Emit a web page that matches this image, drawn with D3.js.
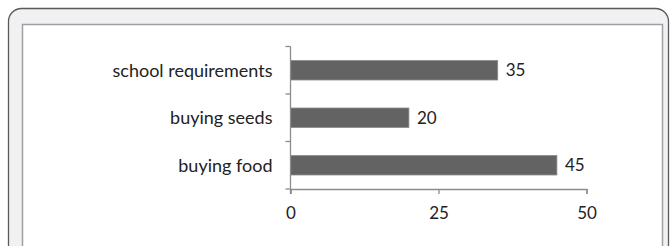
<!DOCTYPE html>
<html>
<head>
<meta charset="utf-8">
<script src="https://cdnjs.cloudflare.com/ajax/libs/d3/7.8.5/d3.min.js"></script>
<style>
  body { margin: 0; background: #fff; }
  svg text { font-family: Lato, "Open Sans", sans-serif; fill: #222; }
</style>
</head>
<body>
<div id="chart"></div>
<script>
// chart data
var categories = ['school requirements', 'buying seeds', 'buying food']
var values = [35, 20, 45]
var xTicks = [0, 25, 50]

var W = 670, H = 246

var svg = d3.select('#chart').append('svg')
  .attr('width', W)
  .attr('height', H)

// frame: rounded outer border, grey band, white inner box
svg.append('rect')
  .attr('x', 8.5).attr('y', 8.5)
  .attr('width', 660).attr('height', 270)
  .attr('rx', 13)
  .attr('fill', '#f1f1f3')
  .attr('stroke', '#5a5a5a')
  .attr('stroke-width', 1.3)
svg.append('rect')
  .attr('x', 22.5).attr('y', 24.5)
  .attr('width', 640).attr('height', 250)
  .attr('fill', '#fff')
  .attr('stroke', '#a0a0a0')
  .attr('stroke-width', 1.5)

// scales
var x = d3.scaleLinear()
  .domain([0, 50])
  .range([290.5, 586.5])

var y = d3.scaleBand()
  .domain(categories)
  .range([46.5, 189])
  .padding(0)

var barH = y.bandwidth() * 0.41

// bars
svg.selectAll('.bar')
  .data(values)
  .enter().append('rect')
  .attr('class', 'bar')
  .attr('x', x(0))
  .attr('y', function(d, i) { return y(categories[i]) + (y.bandwidth() - barH) / 2 })
  .attr('width', function(d) { return x(d) - x(0) })
  .attr('height', barH)
  .attr('fill', '#636363')
  .attr('stroke', '#8a8a8a')
  .attr('stroke-width', 0.8)

// value labels
svg.selectAll('.val')
  .data(values)
  .enter().append('text')
  .attr('class', 'val')
  .attr('x', function(d) { return x(d) + 8 })
  .attr('y', function(d, i) { return y(categories[i]) + y.bandwidth() / 2 })
  .attr('dy', '0.36em')
  .style('font-size', '17px')
  .text(function(d) { return d })

// x axis
var xAxis = svg.append('g')
  .attr('transform', 'translate(0,' + y.range()[1] + ')')
  .call(d3.axisBottom(x).tickValues(xTicks).tickSize(5).tickPadding(13))
xAxis.select('.domain').attr('stroke', '#8c8c8c').attr('stroke-width', 1.3)
xAxis.selectAll('.tick line').attr('stroke', '#8c8c8c').attr('stroke-width', 1.3)
xAxis.selectAll('.tick text')
  .style('font-size', '17px')
  .style('font-family', 'Lato, sans-serif')
  .attr('fill', '#222')

// y axis: line with ticks on category boundaries
var yAxis = svg.append('g')
yAxis.append('line')
  .attr('x1', x(0)).attr('x2', x(0))
  .attr('y1', y.range()[0]).attr('y2', y.range()[1] + 5)
  .attr('stroke', '#8c8c8c').attr('stroke-width', 1.3)
var bounds = categories.map(function(c) { return y(c) }).concat([y.range()[1]])
yAxis.selectAll('.ytick')
  .data(bounds)
  .enter().append('line')
  .attr('x1', x(0) - 5).attr('x2', x(0))
  .attr('y1', function(d) { return d }).attr('y2', function(d) { return d })
  .attr('stroke', '#8c8c8c').attr('stroke-width', 1.3)

// category labels
yAxis.selectAll('.ylab')
  .data(categories)
  .enter().append('text')
  .attr('x', x(0) - 18)
  .attr('y', function(d) { return y(d) + y.bandwidth() / 2 })
  .attr('dy', '0.36em')
  .attr('text-anchor', 'end')
  .style('font-size', '18px')
  .text(function(d) { return d })
</script>
</body>
</html>
